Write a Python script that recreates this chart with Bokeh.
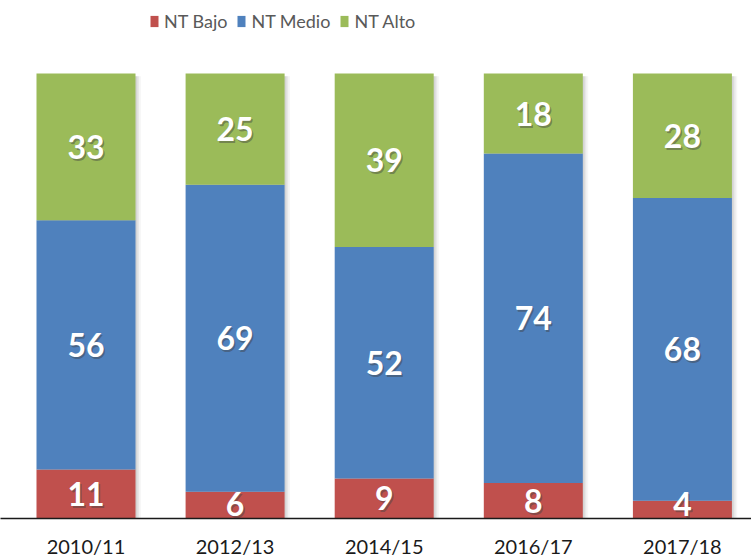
from bokeh.plotting import figure
from bokeh.models import ColumnDataSource, FixedTicker, Legend, LegendItem
from bokeh.core.properties import value
from bokeh.embed import file_html
from bokeh.resources import INLINE

years = ["2010/11", "2012/13", "2014/15", "2016/17", "2017/18"]
bajo = [11, 6, 9, 8, 4]
medio = [56, 69, 52, 74, 68]
alto = [33, 25, 39, 18, 28]
series_names = ["NT Bajo", "NT Medio", "NT Alto"]
colors = ["#C0504D", "#4F81BD", "#9BBB59"]

xs = list(range(len(years)))
b0 = [0] * len(years)
b1 = bajo[:]
b2 = [a + b for a, b in zip(bajo, medio)]
b3 = [a + b for a, b in zip(b2, alto)]

p = figure(frame_width=751, frame_height=518, output_backend="svg", toolbar_location=None,
           x_range=(-0.5734, 4.4634), y_range=(0, 116.4), y_axis_location=None,
           min_border=0, min_border_left=0, min_border_right=0, min_border_top=0, min_border_bottom=0)
p.outline_line_color = None
p.xgrid.visible = False
p.ygrid.visible = False

W = 0.664
# soft shadows
for off, al in [(0.012, 0.18), (0.024, 0.12), (0.036, 0.07)]:
    p.vbar(x=[x + off for x in xs], width=W, bottom=b0, top=[t - 0.6 for t in b3],
           fill_color="#808080", fill_alpha=al, line_color=None)

src = ColumnDataSource(dict(x=xs, b0=b0, b1=b1, b2=b2, b3=b3))
r_bajo = p.vbar(x="x", width=W, bottom="b0", top="b1", source=src, fill_color=colors[0], line_color=None)
r_medio = p.vbar(x="x", width=W, bottom="b1", top="b2", source=src, fill_color=colors[1], line_color=None)
r_alto = p.vbar(x="x", width=W, bottom="b2", top="b3", source=src, fill_color=colors[2], line_color=None)

lx, ly, lt = [], [], []
for vals, lo, hi in [(bajo, b0, b1), (medio, b1, b2), (alto, b2, b3)]:
    for i in xs:
        lx.append(i)
        ly.append(max((lo[i] + hi[i]) / 2, 3.3))
        lt.append(str(vals[i]))
lsrc = ColumnDataSource(dict(x=lx, y=ly, t=lt))
p.text(x="x", y="y", text="t", source=lsrc, text_font=value("Lato"), text_font_style="bold",
       text_font_size="32px", text_color="#404040", text_alpha=0.45, text_align="center",
       text_baseline="middle", x_offset=1.5, y_offset=2)
p.text(x="x", y="y", text="t", source=lsrc, text_font=value("Lato"), text_font_style="bold",
       text_font_size="32px", text_color="white", text_align="center", text_baseline="middle")

ax = p.xaxis[0]
ax.ticker = FixedTicker(ticks=xs)
ax.major_label_overrides = {i: y for i, y in zip(xs, years)}
ax.major_tick_line_color = None
ax.minor_tick_line_color = None
ax.axis_line_color = "#1a1a1a"
ax.axis_line_width = 1.5
ax.major_label_text_font = "Lato"
ax.major_label_text_font_size = "20px"
ax.major_label_text_color = "#1a1a1a"
ax.major_label_standoff = 9

legend = Legend(items=[LegendItem(label=series_names[0], renderers=[r_bajo]),
                       LegendItem(label=series_names[1], renderers=[r_medio]),
                       LegendItem(label=series_names[2], renderers=[r_alto])],
                orientation="horizontal", location=(149, 486),
                glyph_width=10, glyph_height=14, label_standoff=5, spacing=9,
                padding=0, margin=0, border_line_color=None, background_fill_alpha=0,
                label_text_font="Lato", label_text_font_size="18px", label_text_color="#595959")
p.add_layout(legend, "center")

open("out.html", "w").write(file_html(p, INLINE))
